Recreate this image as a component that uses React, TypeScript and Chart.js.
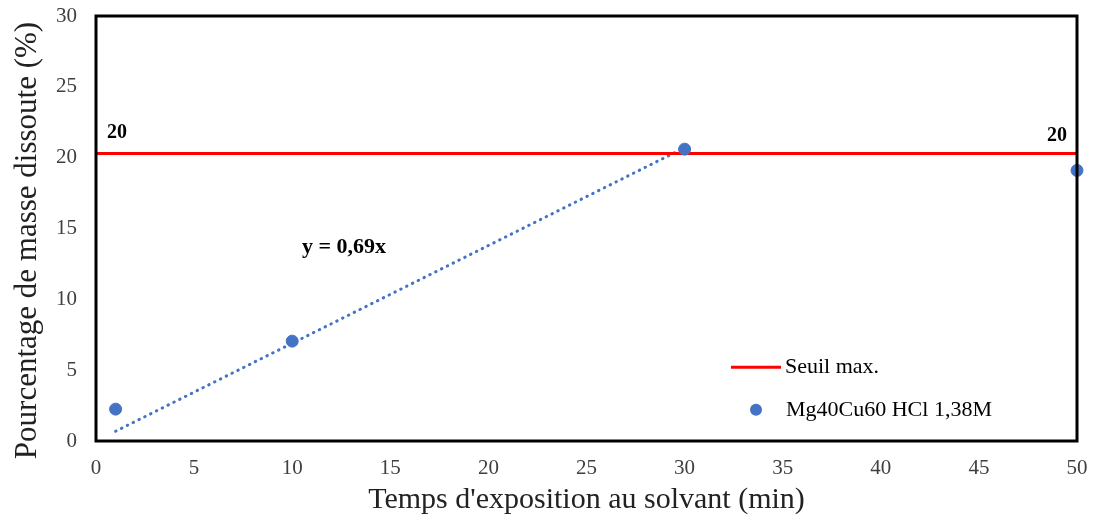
import React, { useEffect, useRef } from "react";
import { Chart, registerables } from "chart.js";

Chart.register(...registerables);

const measureX: number[] = [1, 10, 30, 50];
const measureY: number[] = [2.25, 7.05, 20.6, 19.1];
const thresholdX: number[] = [0, 50];
const thresholdY: number[] = [20.3, 20.3];
const trendX: number[] = [1, 30];
const trendY: number[] = [0.69, 20.7];
const seriesLabels: string[] = ["Seuil max.", "Mg40Cu60 HCl 1,38M"];
const thresholdLabel = "20";
const equationLabel = "y = 0,69x";
const xTitle = "Temps d'exposition au solvant (min)";
const yTitle = "Pourcentage de masse dissoute (%)";

const FONT = "'Liberation Serif', 'Times New Roman', serif";
const BLUE = "#4472C4";
const RED = "#FF0000";

export default function App() {
  const ref = useRef<HTMLCanvasElement | null>(null);
  useEffect(() => {
    if (!ref.current) return;
    const framePlugin = {
      id: "frame",
      afterDatasetsDraw(chart: any) {
        const { ctx, chartArea: a, scales } = chart;
        ctx.save();
        ctx.strokeStyle = "#000";
        ctx.lineWidth = 3;
        ctx.strokeRect(a.left, a.top, a.right - a.left, a.bottom - a.top);
        // y axis title
        ctx.save();
        ctx.translate(28, (a.top + a.bottom) / 2 + 12);
        ctx.rotate(-Math.PI / 2);
        ctx.font = `31px ${FONT}`;
        ctx.fillStyle = "#222";
        ctx.textAlign = "center";
        ctx.textBaseline = "middle";
        ctx.fillText(yTitle, 0, 0);
        ctx.restore();
        // annotations
        ctx.fillStyle = "#000";
        ctx.font = `bold 20px ${FONT}`;
        ctx.textBaseline = "middle";
        ctx.textAlign = "left";
        const yT = scales.y.getPixelForValue(thresholdY[0]);
        ctx.fillText(thresholdLabel, a.left + 11, yT - 21);
        ctx.textAlign = "right";
        ctx.fillText(thresholdLabel, a.right - 10, yT - 18);
        ctx.textAlign = "left";
        ctx.font = `bold 22px ${FONT}`;
        ctx.fillText(equationLabel, a.left + 206, scales.y.getPixelForValue(13.65));
        // legend
        ctx.font = `22px ${FONT}`;
        const lx = a.left + 635;
        const y1 = scales.y.getPixelForValue(5.2);
        const y2 = scales.y.getPixelForValue(2.2);
        ctx.strokeStyle = RED;
        ctx.lineWidth = 3;
        ctx.beginPath();
        ctx.moveTo(lx, y1);
        ctx.lineTo(lx + 50, y1);
        ctx.stroke();
        ctx.fillStyle = "#000";
        ctx.fillText(seriesLabels[0], lx + 54, y1);
        ctx.fillStyle = BLUE;
        ctx.beginPath();
        ctx.arc(lx + 25, y2, 6, 0, Math.PI * 2);
        ctx.fill();
        ctx.fillStyle = "#000";
        ctx.fillText(seriesLabels[1], lx + 55, y2);
        ctx.restore();
      },
    };
    const chart = new Chart(ref.current, {
      type: "scatter",
      data: {
        datasets: [
          {
            label: seriesLabels[0],
            data: thresholdX.map((x, i) => ({ x, y: thresholdY[i] })),
            showLine: true,
            borderColor: RED,
            borderWidth: 3,
            pointRadius: 0,
            order: 2,
          },
          {
            label: "trend",
            data: trendX.map((x, i) => ({ x, y: trendY[i] })),
            showLine: true,
            borderColor: BLUE,
            borderWidth: 3,
            borderDash: [0.5, 6],
            borderCapStyle: "round",
            pointRadius: 0,
            order: 3,
          },
          {
            label: seriesLabels[1],
            data: measureX.map((x, i) => ({ x, y: measureY[i] })),
            backgroundColor: BLUE,
            borderColor: BLUE,
            pointRadius: 6,
            clip: false,
            order: 1,
          },
        ],
      },
      options: {
        animation: false,
        responsive: true,
        maintainAspectRatio: false,
        layout: { padding: { left: 0, right: 16, top: 16, bottom: 0 } },
        plugins: { legend: { display: false }, tooltip: { enabled: false } },
        scales: {
          x: {
            type: "linear",
            min: 0,
            max: 50,
            grid: { display: false, drawTicks: false },
            border: { display: false },
            ticks: { stepSize: 5, padding: 15, color: "#404040", font: { family: FONT, size: 21 } },
            title: { display: true, text: xTitle, color: "#222", font: { family: FONT, size: 30 }, padding: { top: 6 } },
            afterFit: (s: any) => { s.height = 81; s.paddingLeft = 0; s.paddingRight = 0; },
          },
          y: {
            type: "linear",
            min: 0,
            max: 30,
            grid: { display: false, drawTicks: false },
            border: { display: false },
            ticks: { stepSize: 5, padding: 19, color: "#404040", font: { family: FONT, size: 21 } },
            title: { display: false },
            afterFit: (s: any) => { s.width = 96; s.paddingTop = 0; s.paddingBottom = 0; },
          },
        },
      },
      plugins: [framePlugin],
    } as any);
    return () => chart.destroy();
  }, []);
  return (
    <div style={{ position: "absolute", left: 0, top: 0, width: 1093, height: 522, background: "#fff" }}>
      <canvas ref={ref} />
    </div>
  );
}
